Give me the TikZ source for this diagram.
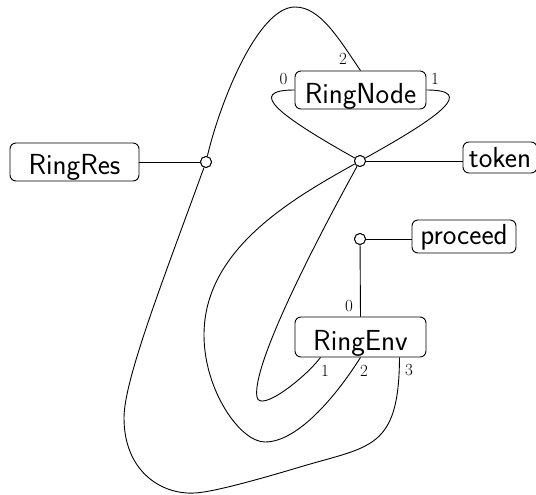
\documentclass[tikz,border=0pt]{standalone}
\usepackage{fontspec}
\usetikzlibrary{calc}
\begin{document}
\begin{tikzpicture}[x=1pt,y=-1pt,
  boxnode/.style={draw, rounded corners=6pt, inner xsep=0pt, inner ysep=0pt, font=\sffamily\fontsize{29}{31}\selectfont, line width=0.9pt},
  junc/.style={draw, circle, fill=white, minimum size=11pt, inner sep=0pt, line width=0.9pt},
  portlbl/.style={inner sep=0pt, font=\fontsize{17}{19}\selectfont},
  wire/.style={line width=0.9pt}]
\useasboundingbox (0,0) rectangle (536,495);

% boxes
\node[boxnode, minimum width=131pt, text height=32pt, text depth=6pt] (RingNode) at (360.5,90) {RingNode};
\node[boxnode, minimum width=129pt, text height=31pt, text depth=7pt] (RingRes) at (74.5,162) {RingRes};
\node[boxnode, minimum width=131pt, text height=33pt, text depth=7pt] (RingEnv) at (360.5,337) {RingEnv};
\node[boxnode, minimum width=74pt, text height=25pt, text depth=6pt] (token) at (500,157.5) {token};
\node[boxnode, minimum width=104pt, text height=24pt, text depth=9pt] (proceed) at (464,236.5) {proceed};

% ports
\coordinate (rn0) at (RingNode.west);
\coordinate (rn1) at (RingNode.east);
\coordinate (rn2) at (RingNode.north);
\coordinate (re0) at (RingEnv.north);
\coordinate (re1) at ($(RingEnv.south)+(-40,0)$);
\coordinate (re2) at (RingEnv.south);
\coordinate (re3) at ($(RingEnv.south)+(39,0)$);

% junctions
\node[junc] (J1) at (206,162) {};
\node[junc] (J2) at (360,161) {};
\node[junc] (J3) at (360,239) {};

% wires
\draw[wire] (RingRes.east) -- (J1);
\draw[wire] (J2) -- (J2 -| token.west);
\draw[wire] (J3) -- (J3 -| proceed.west);
\draw[wire] (J3) -- (re0);
\draw[wire] (rn0) .. controls (245,90) and (280,116) .. (J2);
\draw[wire] (rn1) .. controls (476,90) and (441,116) .. (J2);
\draw[wire] (rn2) .. controls (338,37.5) and (320,7) .. (295,7)
                  .. controls (258,7) and (220,102) .. (J1);
\draw[wire] (J1) .. controls (162,283) and (124,380) .. (124,418)
                 .. controls (124,470) and (160,495) .. (195,493)
                 .. controls (215,492) and (270,476) .. (300,467)
                 .. controls (370,446) and (399,450) .. (re3);
\draw[wire] (J2) .. controls (290,200) and (204,250) .. (204,335)
                 .. controls (204,390) and (240,442) .. (265,442)
                 .. controls (300,442) and (340,390) .. (re2);
\draw[wire] (J2) .. controls (300,270) and (252,370) .. (257,397)
                 .. controls (260,413) and (305,378) .. (re1);

% redraw junctions on top
\node[junc] at (J1) {};
\node[junc] at (J2) {};
\node[junc] at (J3) {};

% port labels
\node[portlbl] (lrn0) at (283.5,79) {0};
\node[portlbl] (lrn1) at (435,79) {1};
\node[portlbl] (lrn2) at (343,58.5) {2};
\node[portlbl] (lre0) at (349,306) {0};
\node[portlbl] (lre1) at (325,371) {1};
\node[portlbl] (lre2) at (364,371) {2};
\node[portlbl] (lre3) at (409,370) {3};
\end{tikzpicture}
\end{document}
